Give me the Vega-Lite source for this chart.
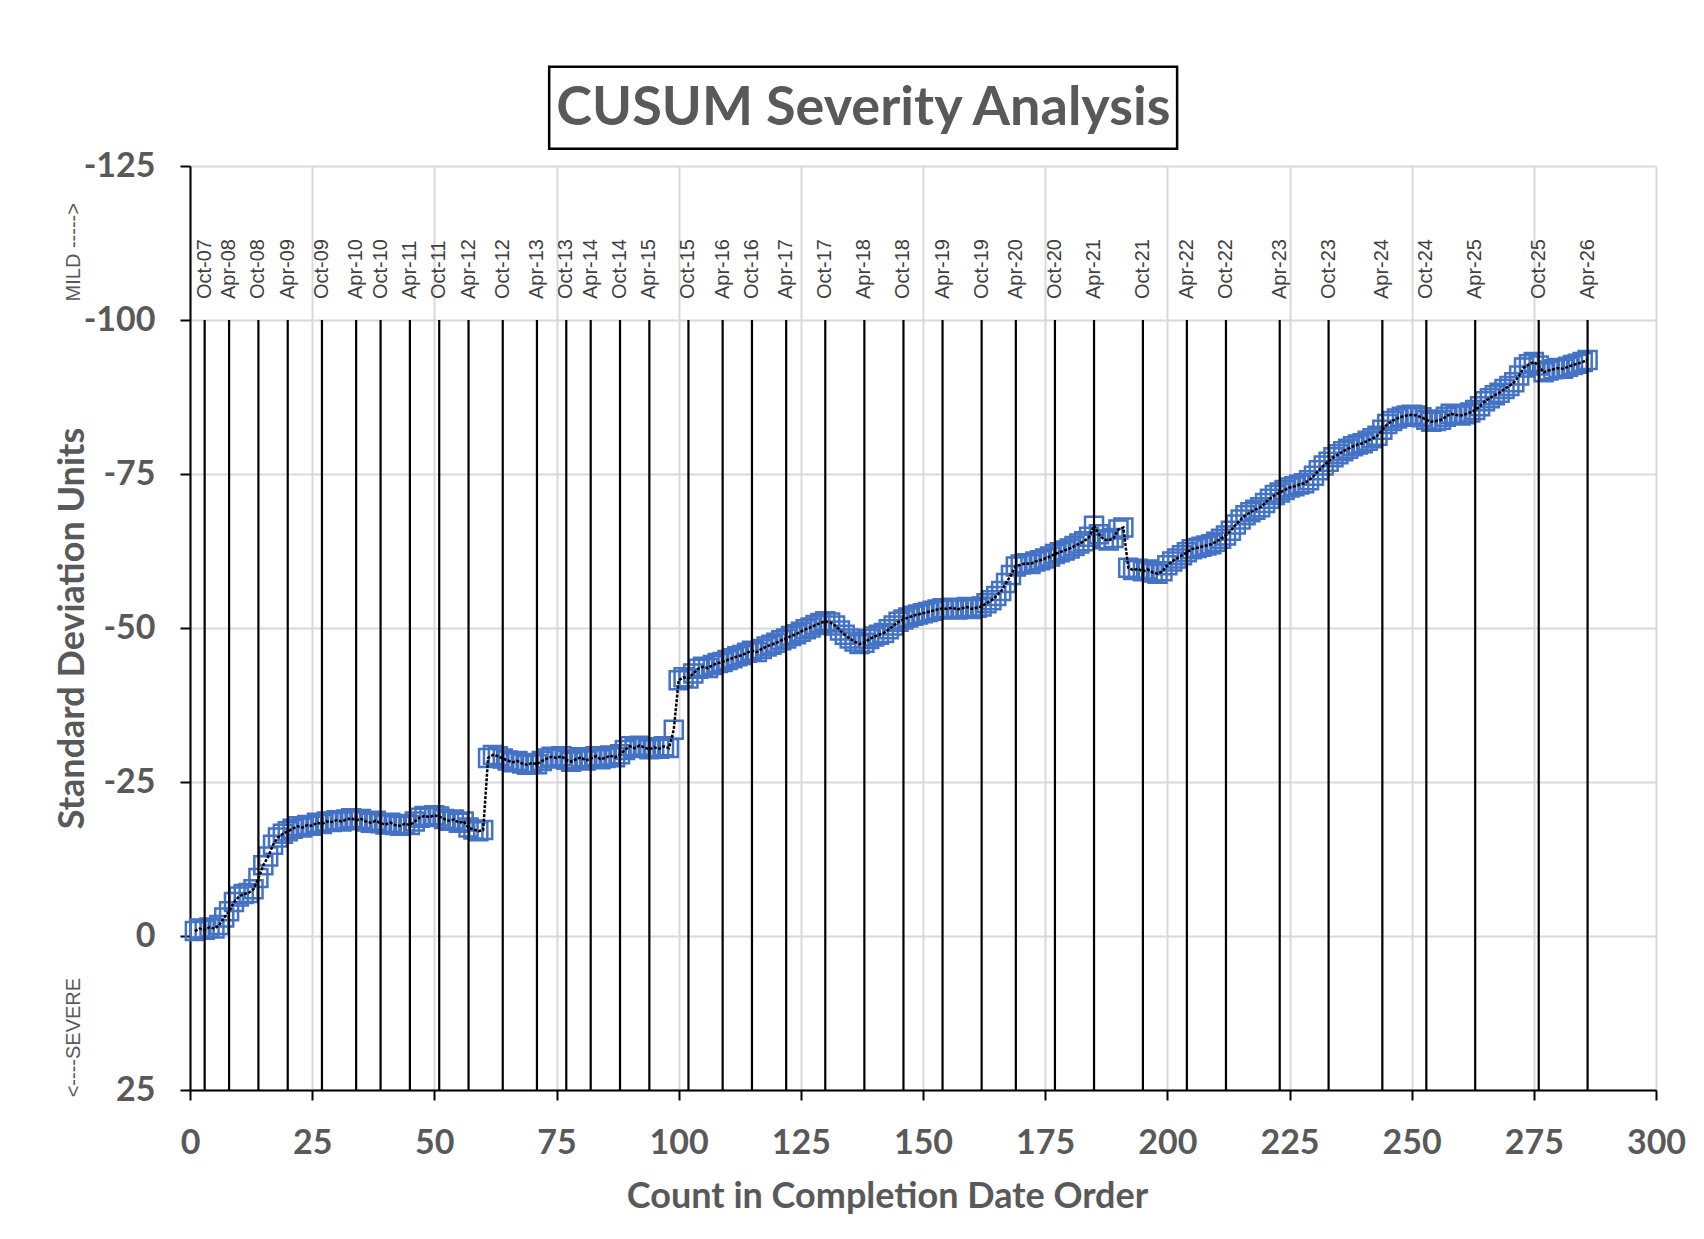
{
  "$schema": "https://vega.github.io/schema/vega-lite/v6.json",
  "width": 1466,
  "height": 924,
  "autosize": {"type": "none"},
  "padding": {"left": 190, "top": 166, "right": 48, "bottom": 149},
  "background": "white",
  "config": {"view": {"stroke": null}, "font": "Lato"},
  "datasets": {
    "cusum": [
      {"n":1,"sd":-0.8},{"n":2,"sd":-1.2},{"n":3,"sd":-1.0},{"n":4,"sd":-1.4},{"n":5,"sd":-1.2},{"n":6,"sd":-1.8},{"n":7,"sd":-3.0},{"n":8,"sd":-4.0},{"n":9,"sd":-5.5},{"n":10,"sd":-6.4},
      {"n":11,"sd":-6.8},{"n":12,"sd":-7.0},{"n":13,"sd":-7.6},{"n":14,"sd":-9.4},{"n":15,"sd":-11.5},{"n":16,"sd":-12.9},{"n":17,"sd":-14.8},{"n":18,"sd":-16.0},{"n":19,"sd":-16.6},{"n":20,"sd":-17.0},
      {"n":21,"sd":-17.4},{"n":22,"sd":-17.8},{"n":23,"sd":-17.6},{"n":24,"sd":-18.0},{"n":25,"sd":-17.9},{"n":26,"sd":-18.4},{"n":27,"sd":-18.2},{"n":28,"sd":-18.6},{"n":29,"sd":-18.5},{"n":30,"sd":-18.8},
      {"n":31,"sd":-18.6},{"n":32,"sd":-18.9},{"n":33,"sd":-19.1},{"n":34,"sd":-18.8},{"n":35,"sd":-19.0},{"n":36,"sd":-18.6},{"n":37,"sd":-18.4},{"n":38,"sd":-18.7},{"n":39,"sd":-18.3},{"n":40,"sd":-18.1},
      {"n":41,"sd":-18.4},{"n":42,"sd":-18.0},{"n":43,"sd":-17.9},{"n":44,"sd":-18.2},{"n":45,"sd":-18.0},{"n":46,"sd":-18.6},{"n":47,"sd":-19.2},{"n":48,"sd":-19.5},{"n":49,"sd":-19.3},{"n":50,"sd":-19.6},
      {"n":51,"sd":-19.4},{"n":52,"sd":-19.0},{"n":53,"sd":-18.7},{"n":54,"sd":-18.9},{"n":55,"sd":-18.4},{"n":56,"sd":-18.6},{"n":57,"sd":-17.6},{"n":58,"sd":-17.3},{"n":59,"sd":-17.0},{"n":60,"sd":-17.2},
      {"n":61,"sd":-28.9},{"n":62,"sd":-29.4},{"n":63,"sd":-29.2},{"n":64,"sd":-28.8},{"n":65,"sd":-28.5},{"n":66,"sd":-28.2},{"n":67,"sd":-28.4},{"n":68,"sd":-28.0},{"n":69,"sd":-27.8},{"n":70,"sd":-28.1},
      {"n":71,"sd":-27.9},{"n":72,"sd":-28.4},{"n":73,"sd":-28.8},{"n":74,"sd":-29.1},{"n":75,"sd":-28.9},{"n":76,"sd":-29.2},{"n":77,"sd":-28.6},{"n":78,"sd":-28.3},{"n":79,"sd":-28.7},{"n":80,"sd":-29.0},
      {"n":81,"sd":-28.5},{"n":82,"sd":-28.8},{"n":83,"sd":-29.2},{"n":84,"sd":-28.7},{"n":85,"sd":-28.9},{"n":86,"sd":-29.3},{"n":87,"sd":-29.0},{"n":88,"sd":-29.5},{"n":89,"sd":-30.2},{"n":90,"sd":-30.8},
      {"n":91,"sd":-30.5},{"n":92,"sd":-30.9},{"n":93,"sd":-30.6},{"n":94,"sd":-30.3},{"n":95,"sd":-30.6},{"n":96,"sd":-30.4},{"n":97,"sd":-30.8},{"n":98,"sd":-30.5},{"n":99,"sd":-33.5},{"n":100,"sd":-41.5},
      {"n":101,"sd":-42.0},{"n":102,"sd":-41.8},{"n":103,"sd":-42.6},{"n":104,"sd":-43.4},{"n":105,"sd":-43.7},{"n":106,"sd":-43.5},{"n":107,"sd":-44.0},{"n":108,"sd":-44.3},{"n":109,"sd":-44.5},{"n":110,"sd":-44.8},
      {"n":111,"sd":-45.1},{"n":112,"sd":-45.4},{"n":113,"sd":-45.6},{"n":114,"sd":-46.0},{"n":115,"sd":-46.3},{"n":116,"sd":-46.1},{"n":117,"sd":-46.6},{"n":118,"sd":-47.0},{"n":119,"sd":-47.3},{"n":120,"sd":-47.6},
      {"n":121,"sd":-48.0},{"n":122,"sd":-48.3},{"n":123,"sd":-48.7},{"n":124,"sd":-49.0},{"n":125,"sd":-49.4},{"n":126,"sd":-49.8},{"n":127,"sd":-50.1},{"n":128,"sd":-50.5},{"n":129,"sd":-50.8},{"n":130,"sd":-51.1},
      {"n":131,"sd":-50.9},{"n":132,"sd":-50.4},{"n":133,"sd":-49.6},{"n":134,"sd":-48.9},{"n":135,"sd":-48.3},{"n":136,"sd":-47.8},{"n":137,"sd":-47.4},{"n":138,"sd":-47.6},{"n":139,"sd":-48.2},{"n":140,"sd":-48.6},
      {"n":141,"sd":-48.9},{"n":142,"sd":-49.2},{"n":143,"sd":-49.8},{"n":144,"sd":-50.4},{"n":145,"sd":-51.0},{"n":146,"sd":-51.4},{"n":147,"sd":-51.7},{"n":148,"sd":-52.0},{"n":149,"sd":-52.2},{"n":150,"sd":-52.4},
      {"n":151,"sd":-52.6},{"n":152,"sd":-52.8},{"n":153,"sd":-53.0},{"n":154,"sd":-53.2},{"n":155,"sd":-53.1},{"n":156,"sd":-53.3},{"n":157,"sd":-53.0},{"n":158,"sd":-53.2},{"n":159,"sd":-53.4},{"n":160,"sd":-53.1},
      {"n":161,"sd":-53.3},{"n":162,"sd":-53.5},{"n":163,"sd":-54.0},{"n":164,"sd":-54.5},{"n":165,"sd":-55.2},{"n":166,"sd":-56.0},{"n":167,"sd":-57.3},{"n":168,"sd":-58.6},{"n":169,"sd":-60.0},{"n":170,"sd":-60.3},
      {"n":171,"sd":-60.5},{"n":172,"sd":-60.4},{"n":173,"sd":-60.8},{"n":174,"sd":-61.0},{"n":175,"sd":-61.3},{"n":176,"sd":-61.6},{"n":177,"sd":-62.0},{"n":178,"sd":-62.3},{"n":179,"sd":-62.6},{"n":180,"sd":-62.9},
      {"n":181,"sd":-63.3},{"n":182,"sd":-63.7},{"n":183,"sd":-64.1},{"n":184,"sd":-64.8},{"n":185,"sd":-66.6},{"n":186,"sd":-65.2},{"n":187,"sd":-64.4},{"n":188,"sd":-64.2},{"n":189,"sd":-64.6},{"n":190,"sd":-66.0},
      {"n":191,"sd":-66.3},{"n":192,"sd":-59.8},{"n":193,"sd":-59.4},{"n":194,"sd":-59.6},{"n":195,"sd":-59.2},{"n":196,"sd":-59.5},{"n":197,"sd":-59.0},{"n":198,"sd":-58.8},{"n":199,"sd":-59.2},{"n":200,"sd":-60.2},
      {"n":201,"sd":-60.8},{"n":202,"sd":-61.3},{"n":203,"sd":-61.8},{"n":204,"sd":-62.3},{"n":205,"sd":-62.8},{"n":206,"sd":-63.0},{"n":207,"sd":-63.2},{"n":208,"sd":-63.4},{"n":209,"sd":-63.6},{"n":210,"sd":-64.0},
      {"n":211,"sd":-64.5},{"n":212,"sd":-65.0},{"n":213,"sd":-65.8},{"n":214,"sd":-66.8},{"n":215,"sd":-67.6},{"n":216,"sd":-68.3},{"n":217,"sd":-68.8},{"n":218,"sd":-69.2},{"n":219,"sd":-69.6},{"n":220,"sd":-70.3},
      {"n":221,"sd":-71.0},{"n":222,"sd":-71.6},{"n":223,"sd":-72.0},{"n":224,"sd":-72.4},{"n":225,"sd":-72.8},{"n":226,"sd":-73.0},{"n":227,"sd":-73.3},{"n":228,"sd":-73.5},{"n":229,"sd":-74.0},{"n":230,"sd":-74.7},
      {"n":231,"sd":-75.6},{"n":232,"sd":-76.4},{"n":233,"sd":-77.0},{"n":234,"sd":-77.7},{"n":235,"sd":-78.2},{"n":236,"sd":-78.7},{"n":237,"sd":-79.1},{"n":238,"sd":-79.5},{"n":239,"sd":-79.8},{"n":240,"sd":-80.0},
      {"n":241,"sd":-80.4},{"n":242,"sd":-80.8},{"n":243,"sd":-81.2},{"n":244,"sd":-82.2},{"n":245,"sd":-83.1},{"n":246,"sd":-83.6},{"n":247,"sd":-84.0},{"n":248,"sd":-84.3},{"n":249,"sd":-84.5},{"n":250,"sd":-84.6},
      {"n":251,"sd":-84.5},{"n":252,"sd":-84.2},{"n":253,"sd":-83.8},{"n":254,"sd":-83.5},{"n":255,"sd":-83.6},{"n":256,"sd":-83.8},{"n":257,"sd":-84.3},{"n":258,"sd":-84.8},{"n":259,"sd":-84.6},{"n":260,"sd":-84.5},
      {"n":261,"sd":-84.7},{"n":262,"sd":-85.0},{"n":263,"sd":-85.4},{"n":264,"sd":-86.0},{"n":265,"sd":-86.8},{"n":266,"sd":-87.3},{"n":267,"sd":-87.8},{"n":268,"sd":-88.2},{"n":269,"sd":-88.8},{"n":270,"sd":-89.3},
      {"n":271,"sd":-89.9},{"n":272,"sd":-91.0},{"n":273,"sd":-92.3},{"n":274,"sd":-92.8},{"n":275,"sd":-93.2},{"n":276,"sd":-92.6},{"n":277,"sd":-91.5},{"n":278,"sd":-91.8},{"n":279,"sd":-92.0},{"n":280,"sd":-92.2},
      {"n":281,"sd":-92.1},{"n":282,"sd":-92.4},{"n":283,"sd":-92.7},{"n":284,"sd":-92.9},{"n":285,"sd":-93.2},{"n":286,"sd":-93.5}
    ],
    "events": [
      {"n":3,"label":"Oct-07"},{"n":8,"label":"Apr-08"},{"n":14,"label":"Oct-08"},{"n":20,"label":"Apr-09"},
      {"n":27,"label":"Oct-09"},{"n":34,"label":"Apr-10"},{"n":39,"label":"Oct-10"},{"n":45,"label":"Apr-11"},
      {"n":51,"label":"Oct-11"},{"n":57,"label":"Apr-12"},{"n":64,"label":"Oct-12"},{"n":71,"label":"Apr-13"},
      {"n":77,"label":"Oct-13"},{"n":82,"label":"Apr-14"},{"n":88,"label":"Oct-14"},{"n":94,"label":"Apr-15"},
      {"n":102,"label":"Oct-15"},{"n":109,"label":"Apr-16"},{"n":115,"label":"Oct-16"},{"n":122,"label":"Apr-17"},
      {"n":130,"label":"Oct-17"},{"n":138,"label":"Apr-18"},{"n":146,"label":"Oct-18"},{"n":154,"label":"Apr-19"},
      {"n":162,"label":"Oct-19"},{"n":169,"label":"Apr-20"},{"n":177,"label":"Oct-20"},{"n":185,"label":"Apr-21"},
      {"n":195,"label":"Oct-21"},{"n":204,"label":"Apr-22"},{"n":212,"label":"Oct-22"},{"n":223,"label":"Apr-23"},
      {"n":233,"label":"Oct-23"},{"n":244,"label":"Apr-24"},{"n":253,"label":"Oct-24"},{"n":263,"label":"Apr-25"},
      {"n":276,"label":"Oct-25"},{"n":286,"label":"Apr-26"}
    ]
  },
  "layer": [
    {
      "data": {"name": "cusum"},
      "mark": {"type": "point", "shape": "square", "filled": false, "stroke": "#4472C4", "strokeWidth": 2.5, "size": 324, "opacity": 1},
      "encoding": {
        "x": {"field": "n", "type": "quantitative",
          "scale": {"domain": [0, 300], "nice": false, "zero": false},
          "axis": {"title": "Count in Completion Date Order", "values": [0,25,50,75,100,125,150,175,200,225,250,275,300],
            "labelFlush": false, "labelOverlap": false,
            "grid": true, "gridColor": "#d9d9d9", "gridWidth": 2,
            "domainColor": "#000000", "domainWidth": 2, "tickColor": "#000000", "tickWidth": 2, "tickSize": 10,
            "labelFont": "Lato", "labelFontWeight": "bold", "labelFontSize": 34, "labelColor": "#595959", "labelPadding": 26,
            "titleFont": "Lato", "titleFontWeight": "bold", "titleFontSize": 36, "titleColor": "#595959",
            "titleX": 697, "titleY": 106, "titleBaseline": "middle"}},
        "y": {"field": "sd", "type": "quantitative",
          "scale": {"domain": [-125, 25], "reverse": true, "nice": false, "zero": false},
          "axis": {"title": "Standard Deviation Units", "values": [-125,-100,-75,-50,-25,0,25],
            "labelExpr": "'' + datum.value", "labelFlush": false, "labelOverlap": false,
            "grid": true, "gridColor": "#d9d9d9", "gridWidth": 2,
            "domainColor": "#000000", "domainWidth": 2, "tickColor": "#000000", "tickWidth": 2, "tickSize": 10,
            "labelFont": "Lato", "labelFontWeight": "bold", "labelFontSize": 34, "labelColor": "#595959", "labelPadding": 25,
            "titleFont": "Lato", "titleFontWeight": "bold", "titleFontSize": 36, "titleColor": "#595959",
            "titleX": -118, "titleY": 462, "titleAngle": 270, "titleBaseline": "middle", "titleAlign": "center"}}
      }
    },
    {
      "data": {"name": "cusum"},
      "mark": {"type": "line", "color": "#000000", "strokeWidth": 2.5, "strokeDash": [3, 1.5]},
      "encoding": {
        "x": {"field": "n", "type": "quantitative"},
        "y": {"field": "sd", "type": "quantitative"}
      }
    },
    {
      "data": {"name": "events"},
      "mark": {"type": "rule", "color": "#000000", "strokeWidth": 2.2},
      "encoding": {
        "x": {"field": "n", "type": "quantitative"},
        "y": {"datum": -100, "type": "quantitative"},
        "y2": {"datum": 25}
      }
    },
    {
      "data": {"name": "events"},
      "mark": {"type": "text", "angle": 270, "align": "left", "baseline": "middle", "font": "Liberation Sans", "fontSize": 20, "color": "#404040", "dx": 0},
      "encoding": {
        "x": {"field": "n", "type": "quantitative"},
        "y": {"datum": -103.4, "type": "quantitative"},
        "text": {"field": "label"}
      }
    },
    {
      "data": {"values": [{}]},
      "mark": {"type": "rect", "fill": null, "fillOpacity": 0, "stroke": "#000000", "strokeWidth": 2.5},
      "encoding": {
        "x": {"datum": 73.5, "type": "quantitative"},
        "x2": {"datum": 202},
        "y": {"datum": -141.1, "type": "quantitative"},
        "y2": {"datum": -127.8}
      }
    },
    {
      "data": {"values": [{}]},
      "mark": {"type": "text", "text": "CUSUM Severity Analysis", "font": "Lato", "fontWeight": "bold", "fontSize": 54, "color": "#595959", "align": "center", "baseline": "middle"},
      "encoding": {
        "x": {"datum": 137.8, "type": "quantitative"},
        "y": {"datum": -134.2, "type": "quantitative"}
      }
    },
    {
      "data": {"values": [{}]},
      "mark": {"type": "text", "text": "MILD ----->", "font": "Liberation Sans", "fontSize": 20, "color": "#595959", "align": "center", "baseline": "middle", "angle": 270},
      "encoding": {
        "x": {"datum": -23.7, "type": "quantitative"},
        "y": {"datum": -111.0, "type": "quantitative"}
      }
    },
    {
      "data": {"values": [{}]},
      "mark": {"type": "text", "text": "<----SEVERE", "font": "Liberation Sans", "fontSize": 20, "color": "#595959", "align": "center", "baseline": "middle", "angle": 270},
      "encoding": {
        "x": {"datum": -23.7, "type": "quantitative"},
        "y": {"datum": 16.5, "type": "quantitative"}
      }
    }
  ]
}
